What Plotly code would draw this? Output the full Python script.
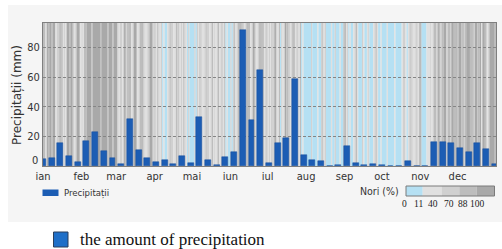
import plotly.graph_objects as go

# ---------------- data ----------------
month_names = ["ian", "feb", "mar", "apr", "mai", "iun", "iul", "aug", "sep", "oct", "nov", "dec", "ian"]
month_lengths = [31, 28, 31, 30, 31, 30, 31, 31, 30, 31, 30, 31]

# weekly precipitation (mm), one bar per week starting 1 Jan
precip_mm = [4.5, 5.6, 15.7, 7.0, 2.9, 16.9, 22.7, 10.1, 5.6, 1.1,
             31.7, 10.8, 5.2, 2.9, 3.8, 1.3, 6.5, 2.0, 33.2, 3.8,
             0.7, 5.9, 9.2, 91.9, 31.0, 64.5, 1.8, 15.3, 18.7, 58.5,
             7.4, 3.8, 3.6, 0.0, 0.5, 13.3, 2.3, 0.8, 1.3, 0.4,
             0.0, 0.0, 3.2, 0.0, 0.0, 16.4, 16.0, 15.3, 12.0, 9.6,
             15.3, 11.6, 1.3]
week_start_day = [7 * k for k in range(len(precip_mm))]

# daily cloud-cover class (0: 0-11 %, 1: 11-40 %, 2: 40-70 %, 3: 70-88 %, 4: 88-100 %)
cloud_jan = "3314344344122343121443442124431"
cloud_feb = "2133444434444443444443444344"
cloud_mar = "4212214324331244312334211234432"
cloud_apr = "213212010012322113231213210200"
cloud_may = "0020213211232212312123122130100"
cloud_jun = "202312334321243312432123343123"
cloud_jul = "1213234213021243321243122130100"
cloud_aug = "0000200001002312000010020001003"
cloud_sep = "412010012310002100120001231001"
cloud_oct = "0000100000100000122101232112213"
cloud_nov = "400001112123324323344233244334"
cloud_dec = "3443423444334244334144321344443"

cloud_bin_labels = ["0", "11", "40", "70", "88", "100"]
cloud_colors = ["#b5e0f3", "#e0e0e0", "#d0d0d0", "#bdbdbd", "#a9a9a9"]

# ---------------- derived ----------------
cloud_days = [int(c) for c in (cloud_jan + cloud_feb + cloud_mar + cloud_apr + cloud_may + cloud_jun +
                               cloud_jul + cloud_aug + cloud_sep + cloud_oct + cloud_nov + cloud_dec)]
month_starts = [0]
for m in month_lengths:
    month_starts.append(month_starts[-1] + m)
n_days = month_starts[-1]

W, H = 502, 249
L, R, T, B = 43, 6, 23, 83
pw, ph = W - L - R, H - T - B


def px_x(x):
    return (x - L) / pw


def px_y(y):
    return (H - B - y) / ph


NARROW = "Liberation Sans Narrow, DejaVu Sans Condensed, Arial Narrow, sans-serif"
SERIF = "Liberation Serif, Times New Roman, serif"
TXT = "#333333"

shapes = []
# panel background
shapes.append(dict(type="rect", xref="paper", yref="paper", layer="below",
                   x0=px_x(8), x1=px_x(502), y0=px_y(222), y1=px_y(5),
                   fillcolor="#f5f5f5", line=dict(width=0)))

# cloud-cover stripes (runs of identical class)
start = 0
for d in range(1, n_days + 1):
    if d == n_days or cloud_days[d] != cloud_days[start]:
        shapes.append(dict(type="rect", xref="x", yref="y domain", layer="below",
                           x0=start, x1=d, y0=0, y1=1,
                           fillcolor=cloud_colors[cloud_days[start]], line=dict(width=0)))
        start = d

# precipitation legend swatch
shapes.append(dict(type="rect", xref="paper", yref="paper",
                   x0=px_x(42.5), x1=px_x(58.5), y0=px_y(196), y1=px_y(189.5),
                   fillcolor="#1c5db4", line=dict(width=0)))

# cloud legend colour boxes
seg_px = [406, 422.7, 441.7, 459.3, 476.7, 494.5]
for i, col in enumerate(cloud_colors):
    shapes.append(dict(type="rect", xref="paper", yref="paper",
                       x0=px_x(seg_px[i]), x1=px_x(seg_px[i + 1]), y0=px_y(196), y1=px_y(186),
                       fillcolor=col, line=dict(width=0)))
shapes.append(dict(type="rect", xref="paper", yref="paper",
                   x0=px_x(seg_px[0]), x1=px_x(seg_px[-1]), y0=px_y(196), y1=px_y(186),
                   fillcolor="rgba(0,0,0,0)", line=dict(color="#7a7a7a", width=1)))

# bottom caption swatch
shapes.append(dict(type="rect", xref="paper", yref="paper",
                   x0=px_x(53.5), x1=px_x(68), y0=px_y(247), y1=px_y(232),
                   fillcolor="#1f6fc8", line=dict(color="#2b3f5c", width=1)))

annotations = [
    dict(text="Precipitații (mm)", xref="paper", yref="paper", x=px_x(17), y=px_y(95),
         textangle=-90, showarrow=False, xanchor="center", yanchor="middle",
         font=dict(family="DejaVu Sans, sans-serif", size=12, color=TXT)),
    dict(text="0", xref="paper", yref="paper", x=px_x(40), y=px_y(160),
         showarrow=False, xanchor="right", yanchor="middle",
         font=dict(family=NARROW, size=11, color=TXT)),
    dict(text="Precipitații", xref="paper", yref="paper", x=px_x(61.5), y=px_y(193),
         showarrow=False, xanchor="left", yanchor="middle",
         font=dict(family=NARROW, size=9.5, color=TXT)),
    dict(text="Nori (%)", xref="paper", yref="paper", x=px_x(400.5), y=px_y(190.5),
         showarrow=False, xanchor="right", yanchor="middle",
         font=dict(family=NARROW, size=10.5, color=TXT)),
    dict(text="the amount of precipitation", xref="paper", yref="paper", x=px_x(77.5), y=px_y(239.5),
         showarrow=False, xanchor="left", yanchor="middle",
         font=dict(family=SERIF, size=17, color="#111111")),
]
label_px = [404, 418.3, 432.7, 449, 463.3, 477.7]
for lab, xp in zip(cloud_bin_labels, label_px):
    annotations.append(dict(text=lab, xref="paper", yref="paper", x=px_x(xp), y=px_y(203.5),
                            showarrow=False, xanchor="center", yanchor="middle",
                            font=dict(family=SERIF, size=9.5, color="#222222")))

fig = go.Figure()
fig.add_trace(go.Bar(x=week_start_day, y=precip_mm, width=4.8,
                     marker=dict(color="#1c5db4", line=dict(color="#174f9c", width=0.5)),
                     name="Precipitații", showlegend=False))

fig.update_layout(
    width=W, height=H,
    margin=dict(l=L, r=R, t=T, b=B, pad=0),
    paper_bgcolor="white", plot_bgcolor="#c0c0c0",
    shapes=shapes, annotations=annotations,
    bargap=0,
    xaxis=dict(range=[0, n_days], tickmode="array", tickvals=month_starts, ticktext=month_names,
               showgrid=False, zeroline=False, ticks="", showline=True, mirror=True,
               linecolor="#7f7f7f", linewidth=1,
               tickfont=dict(family=NARROW, size=11, color=TXT)),
    yaxis=dict(range=[0, 96.5], tickmode="array", tickvals=[20, 40, 60, 80],
               showgrid=True, gridcolor="#858585", gridwidth=1, griddash="3px,2px",
               zeroline=False, ticks="", showline=True, mirror=True,
               linecolor="#7f7f7f", linewidth=1,
               tickfont=dict(family=NARROW, size=11, color=TXT)),
)

fig.write_html("out.html", config={"displayModeBar": False},
               post_script="document.body.style.margin='0';document.body.style.overflow='hidden';")
